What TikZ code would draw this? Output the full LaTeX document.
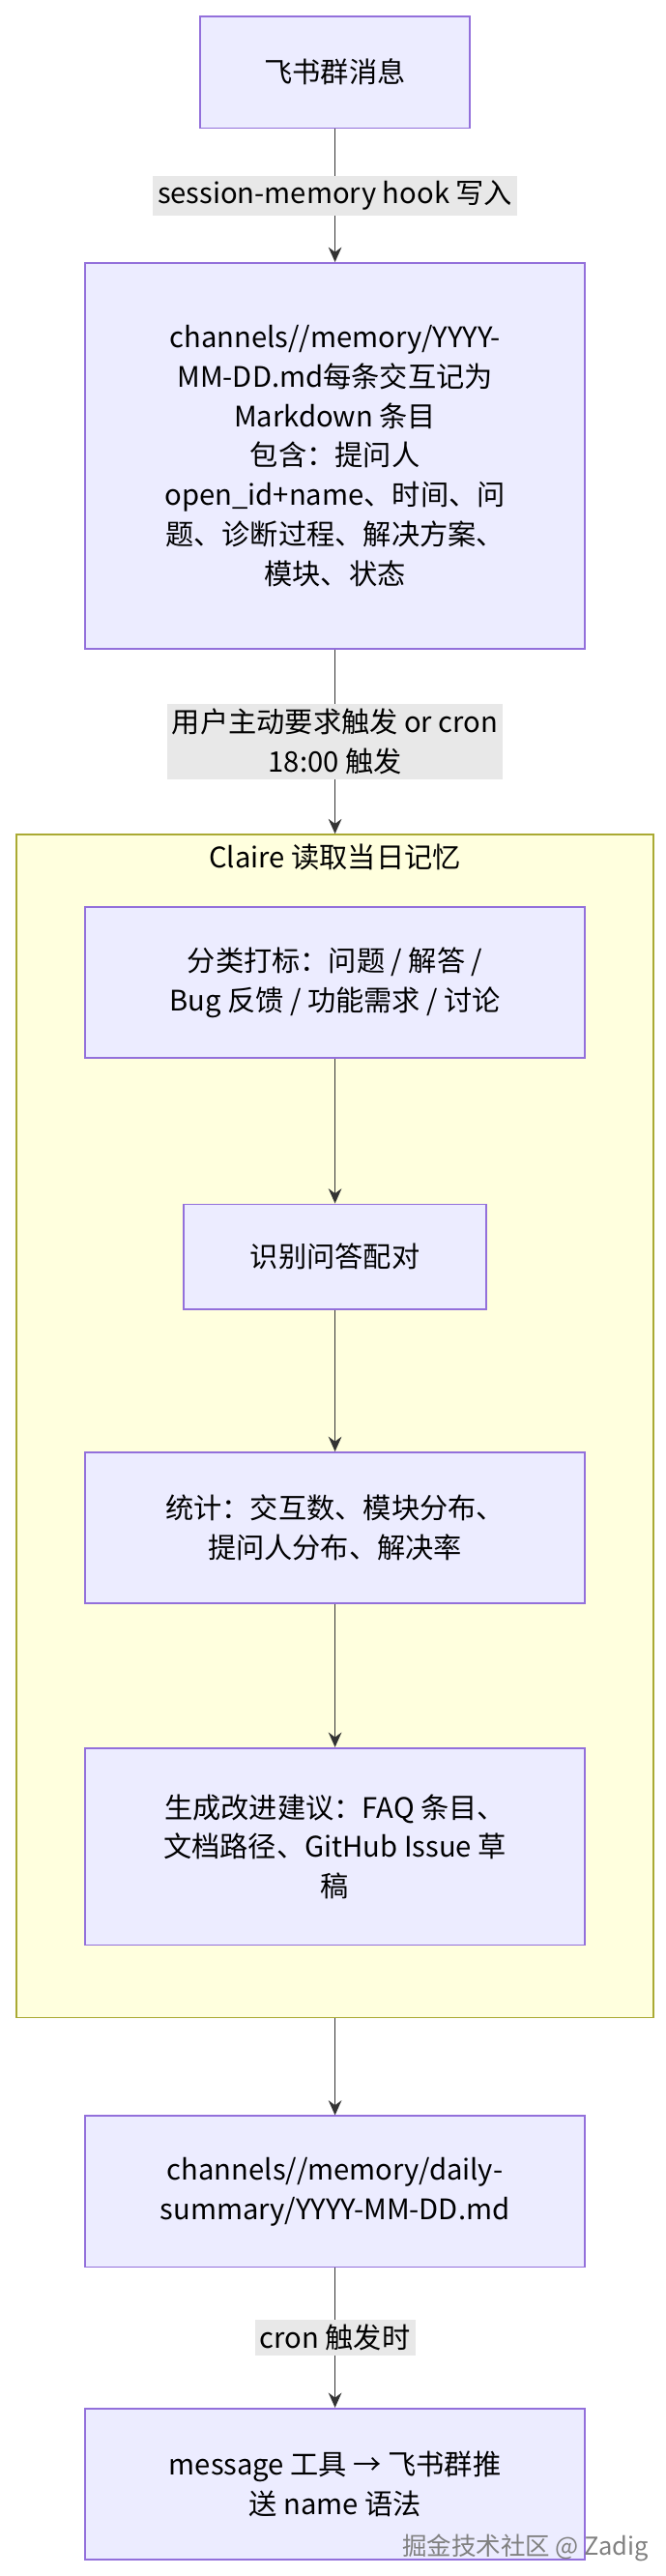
\documentclass[tikz,border=0pt]{standalone}
\usepackage{fontspec}
\setmainfont{Noto Sans CJK SC}
\usetikzlibrary{arrows.meta}
\definecolor{boxfill}{HTML}{ECECFF}
\definecolor{boxline}{HTML}{9370DB}
\definecolor{grpfill}{HTML}{FFFFDE}
\definecolor{grpline}{HTML}{AAAA33}
\definecolor{lblfill}{HTML}{E8E8E8}
\definecolor{edgecol}{HTML}{333333}
\begin{document}
\begin{tikzpicture}[x=0.5pt, y=-0.5pt, every node/.style={font=\fontsize{8.6}{12}\selectfont, text=black},
    stage/.style={rectangle, draw=boxline, fill=boxfill, line width=0.5pt, align=center, minimum width=152pt, inner sep=2pt},
    group/.style={rectangle, draw=grpline, fill=grpfill, line width=0.5pt, minimum width=194pt, minimum height=360pt},
    tag/.style={fill=lblfill, align=center, inner sep=1.5pt},
    flow/.style={-{Stealth[length=4.5pt,width=4pt]}, draw=edgecol, line width=0.5pt}]
    \useasboundingbox (0,0) rectangle (405,1568);
    \node[group] (claire) at (204,868) {};
    \node at (204,522) (clairetitle) {Claire 读取当日记忆};
    \node[stage, minimum width=82pt, minimum height=34pt] (msg) at (204,44) {飞书群消息};
    \node[stage, minimum height=117.5pt] (daily) at (204,277.5) {channels//memory/YYYY-\\MM-DD.md每条交互记为\\Markdown 条目\\包含：提问人\\open\_id+name、时间、问\\题、诊断过程、解决方案、\\模块、状态};
    \node[stage, minimum height=46pt] (classify) at (204,598) {分类打标：问题 / 解答 /\\Bug 反馈 / 功能需求 / 讨论};
    \node[stage, minimum width=92pt, minimum height=32pt] (pair) at (204,765) {识别问答配对};
    \node[stage, minimum height=46pt] (stats) at (204,930) {统计：交互数、模块分布、\\提问人分布、解决率};
    \node[stage, minimum height=60pt] (advice) at (204,1124) {生成改进建议：FAQ 条目、\\文档路径、GitHub Issue 草\\稿};
    \node[stage, minimum height=46pt] (summary) at (204,1334) {channels//memory/daily-\\summary/YYYY-MM-DD.md};
    \node[stage, minimum height=46pt] (push) at (204,1512) {message 工具 → 飞书群推\\送 name 语法};
    \draw[flow] (msg) -- node[tag] {session-memory hook 写入} (daily);
    \draw[flow] (daily) -- node[tag] {用户主动要求触发 or cron\\18:00 触发} (claire);
    \draw[flow] (classify) -- (pair);
    \draw[flow] (pair) -- (stats);
    \draw[flow] (stats) -- (advice);
    \draw[flow] (claire) -- (summary);
    \draw[flow] (summary) -- node[tag] {cron 触发时} (push);
    \node[text=gray, font=\fontsize{7.5}{9}\selectfont, anchor=east] (mark) at (402,1551) {掘金技术社区 @ Zadig};
\end{tikzpicture}
\end{document}
